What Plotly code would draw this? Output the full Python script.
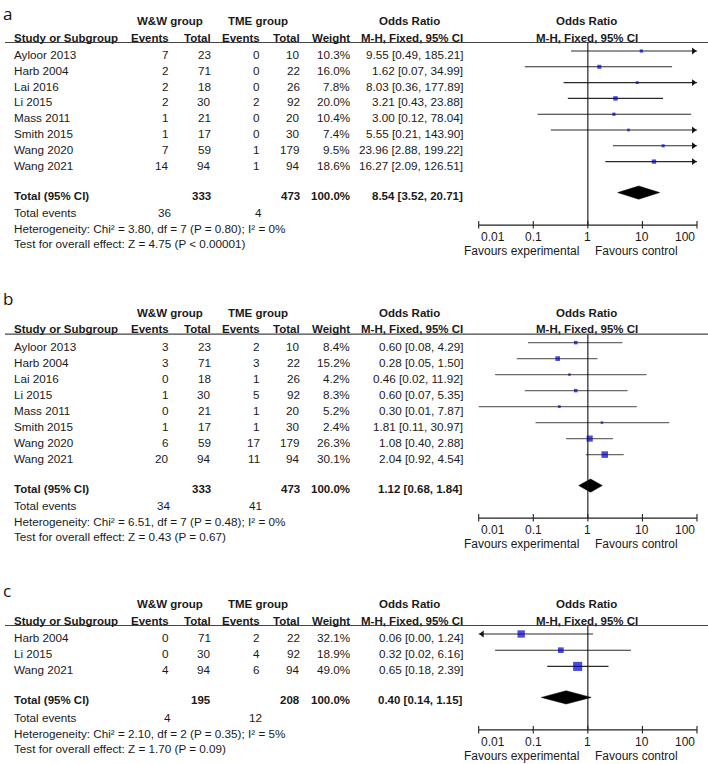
import numpy as np
import plotly.graph_objects as go

# ---------------- data ----------------
panel_labels = ["a", "b", "c"]

studies_a = ["Ayloor 2013", "Harb 2004", "Lai 2016", "Li 2015", "Mass 2011", "Smith 2015", "Wang 2020", "Wang 2021"]
ev_ww_a = [7, 2, 2, 2, 1, 1, 7, 14]
tot_ww_a = [23, 71, 18, 30, 21, 17, 59, 94]
ev_tme_a = [0, 0, 0, 2, 0, 0, 1, 1]
tot_tme_a = [10, 22, 26, 92, 20, 30, 179, 94]
weight_a = [10.3, 16.0, 7.8, 20.0, 10.4, 7.4, 9.5, 18.6]
or_a = [9.55, 1.62, 8.03, 3.21, 3.00, 5.55, 23.96, 16.27]
lo_a = [0.49, 0.07, 0.36, 0.43, 0.12, 0.21, 2.88, 2.09]
hi_a = [185.21, 34.99, 177.89, 23.88, 78.04, 143.90, 199.22, 126.51]
total_a = dict(n_ww=333, n_tme=473, or_=8.54, lo=3.52, hi=20.71, ev_ww=36, ev_tme=4,
               het="Heterogeneity: Chi² = 3.80, df = 7 (P = 0.80); I² = 0%",
               test="Test for overall effect: Z = 4.75 (P < 0.00001)")

studies_b = ["Ayloor 2013", "Harb 2004", "Lai 2016", "Li 2015", "Mass 2011", "Smith 2015", "Wang 2020", "Wang 2021"]
ev_ww_b = [3, 3, 0, 1, 0, 1, 6, 20]
tot_ww_b = [23, 71, 18, 30, 21, 17, 59, 94]
ev_tme_b = [2, 3, 1, 5, 1, 1, 17, 11]
tot_tme_b = [10, 22, 26, 92, 20, 30, 179, 94]
weight_b = [8.4, 15.2, 4.2, 8.3, 5.2, 2.4, 26.3, 30.1]
or_b = [0.60, 0.28, 0.46, 0.60, 0.30, 1.81, 1.08, 2.04]
lo_b = [0.08, 0.05, 0.02, 0.07, 0.01, 0.11, 0.40, 0.92]
hi_b = [4.29, 1.50, 11.92, 5.35, 7.87, 30.97, 2.88, 4.54]
total_b = dict(n_ww=333, n_tme=473, or_=1.12, lo=0.68, hi=1.84, ev_ww=34, ev_tme=41,
               het="Heterogeneity: Chi² = 6.51, df = 7 (P = 0.48); I² = 0%",
               test="Test for overall effect: Z = 0.43 (P = 0.67)")

studies_c = ["Harb 2004", "Li 2015", "Wang 2021"]
ev_ww_c = [0, 0, 4]
tot_ww_c = [71, 30, 94]
ev_tme_c = [2, 4, 6]
tot_tme_c = [22, 92, 94]
weight_c = [32.1, 18.9, 49.0]
or_c = [0.06, 0.32, 0.65]
lo_c = [0.00, 0.02, 0.18]
hi_c = [1.24, 6.16, 2.39]
total_c = dict(n_ww=195, n_tme=208, or_=0.40, lo=0.14, hi=1.15, ev_ww=4, ev_tme=12,
               het="Heterogeneity: Chi² = 2.10, df = 2 (P = 0.35); I² = 5%",
               test="Test for overall effect: Z = 1.70 (P = 0.09)")

tick_vals = [0.01, 0.1, 1, 10, 100]
tick_text = ["0.01", "0.1", "1", "10", "100"]
favours = ["Favours experimental", "Favours control"]

# ---------------- layout constants ----------------
W, H = 708, 764
X0PX, X1PX = 478.7, 697.0
PPD = (X1PX - X0PX) / 4.0
EXT = 0.06
XMIN, XMAX = tick_vals[0], tick_vals[-1]
FONT = "Liberation Sans"
TXT = "#1a1a1a"
NS = 11.7   # normal size
BS = 11.5   # bold size

panels = [
    dict(label=panel_labels[0], base=37.7, step=15.8, mscale=1.0, lcol="#2a2a2a",
         studies=studies_a, ev_ww=ev_ww_a, tot_ww=tot_ww_a, ev_tme=ev_tme_a, tot_tme=tot_tme_a,
         w=weight_a, or_=or_a, lo=lo_a, hi=hi_a, tot=total_a),
    dict(label=panel_labels[1], base=329.3, step=16.0, mscale=1.2, lcol="#6a6a6a",
         studies=studies_b, ev_ww=ev_ww_b, tot_ww=tot_ww_b, ev_tme=ev_tme_b, tot_tme=tot_tme_b,
         w=weight_b, or_=or_b, lo=lo_b, hi=hi_b, tot=total_b),
    dict(label=panel_labels[2], base=620.7, step=16.2, mscale=1.3, lcol="#2a2a2a",
         studies=studies_c, ev_ww=ev_ww_c, tot_ww=tot_ww_c, ev_tme=ev_tme_c, tot_tme=tot_tme_c,
         w=weight_c, or_=or_c, lo=lo_c, hi=hi_c, tot=total_c),
]

fig = go.Figure()
ann = []
shapes = []


def txt(x, y, s, anchor="left", bold=False, size=None, family=FONT, color=TXT, yanchor="middle"):
    if size is None:
        size = BS if bold else NS
    ann.append(dict(xref="paper", yref="y", x=x / W, y=y,
                    text=f"<b>{s}</b>" if bold else s, showarrow=False,
                    xanchor=anchor, yanchor=yanchor,
                    font=dict(family=family, size=size, color=color)))


ARW = 6  # arrow marker size
arr_off = (ARW / 2) * 2 / np.sqrt(3)  # tip offset px

for k_p, p in enumerate(panels):
    Y0 = p["base"]
    # panel letter
    if k_p == 0:
        txt(0.5, max(0.0, Y0 - 38.0), p["label"], family="Open Sans", size=17, color="#111",
            yanchor="top")
    else:
        txt(0.5, Y0 - 30.5, p["label"], family="Open Sans", size=17, color="#111")
    # header row 1
    r1 = Y0 - 16.3
    txt(169.5, r1, "W&amp;W group", "center", True)
    txt(258, r1, "TME group", "center", True)
    txt(409, r1, "Odds Ratio", "center", True)
    txt(586.7, r1, "Odds Ratio", "center", True)
    # header row 2
    txt(12, Y0, "Study or Subgroup", "left", True)
    txt(171, Y0, "Events", "right", True)
    txt(213.3, Y0, "Total", "right", True)
    txt(261.7, Y0, "Events", "right", True)
    txt(301.7, Y0, "Total", "right", True)
    txt(351.7, Y0, "Weight", "right", True)
    txt(465, Y0, "M-H, Fixed, 95% CI", "right", True)
    txt(586.7, Y0, "M-H, Fixed, 95% CI", "center", True)
    line_y = Y0 + 4.8
    shapes.append(dict(type="line", xref="paper", yref="y", x0=5 / W, x1=1, y0=line_y, y1=line_y,
                       line=dict(color="#444", width=1.2)))

    n = len(p["studies"])
    rows = [Y0 + 16.8 + p["step"] * i for i in range(n)]
    for i in range(n):
        y = rows[i]
        txt(12, y, p["studies"][i])
        txt(171, y, str(p["ev_ww"][i]), "right")
        txt(213.3, y, str(p["tot_ww"][i]), "right")
        txt(261.7, y, str(p["ev_tme"][i]), "right")
        txt(301.7, y, str(p["tot_tme"][i]), "right")
        txt(351.7, y, f"{p['w'][i]:.1f}%", "right")
        txt(465, y, f"{p['or_'][i]:.2f} [{p['lo'][i]:.2f}, {p['hi'][i]:.2f}]", "right")

    t = p["tot"]
    ty = rows[-1] + 30.5
    txt(12, ty, "Total (95% CI)", "left", True)
    txt(213.3, ty, str(t["n_ww"]), "right", True)
    txt(301.7, ty, str(t["n_tme"]), "right", True)
    txt(351.7, ty, "100.0%", "right", True)
    txt(465, ty, f"{t['or_']:.2f} [{t['lo']:.2f}, {t['hi']:.2f}]", "right", True)
    txt(12, ty + 16.7, "Total events")
    txt(173, ty + 16.7, str(t["ev_ww"]), "right")
    txt(264, ty + 16.7, str(t["ev_tme"]), "right")
    txt(12, ty + 32.7, t["het"])
    txt(12, ty + 48.0, t["test"])

    axis_y = ty + 29.5
    my = [r - 3.5 for r in rows]

    # CI lines
    lx, ly = [], []
    rax, ray, lax, lay = [], [], [], []
    for i in range(n):
        a = max(p["lo"][i], XMIN)
        b = min(p["hi"][i], XMAX)
        lx += [a, b, None]
        ly += [my[i], my[i], None]
        if p["hi"][i] > XMAX:
            rax.append(XMAX * 10 ** (-arr_off / PPD)); ray.append(my[i])
        if p["lo"][i] < XMIN:
            lax.append(XMIN * 10 ** (arr_off / PPD)); lay.append(my[i])
    fig.add_trace(go.Scatter(x=lx, y=ly, mode="lines", line=dict(color=p["lcol"], width=1.1),
                             hoverinfo="skip"))
    if rax:
        fig.add_trace(go.Scatter(x=rax, y=ray, mode="markers", cliponaxis=False,
                                 marker=dict(symbol="triangle-right", size=ARW, color="#111"),
                                 hoverinfo="skip"))
    if lax:
        fig.add_trace(go.Scatter(x=lax, y=lay, mode="markers", cliponaxis=False,
                                 marker=dict(symbol="triangle-left", size=ARW, color="#111"),
                                 hoverinfo="skip"))
    # squares
    sizes = [max(2.5, p["mscale"] * np.sqrt(w)) for w in p["w"]]
    fig.add_trace(go.Scatter(x=p["or_"], y=my, mode="markers", cliponaxis=False,
                             marker=dict(symbol="square", size=sizes, color="#0000cc",
                                         line=dict(width=0)),
                             hoverinfo="skip"))
    # diamond
    dy = ty - 3
    hh = 6.6
    fig.add_trace(go.Scatter(x=[t["lo"], t["or_"], t["hi"], t["or_"], t["lo"]],
                             y=[dy, dy - hh, dy, dy + hh, dy], mode="lines", fill="toself",
                             fillcolor="#000", line=dict(color="#000", width=0.5),
                             hoverinfo="skip"))
    # null line
    fig.add_trace(go.Scatter(x=[1, 1], y=[line_y, axis_y], mode="lines",
                             line=dict(color="#111", width=1.1), hoverinfo="skip"))
    # axis line + ticks
    ax_x = [XMIN, XMAX, None]
    ax_y = [axis_y, axis_y, None]
    for tv in tick_vals:
        ax_x += [tv, tv, None]
        ax_y += [axis_y - 4, axis_y + 3.5, None]
    fig.add_trace(go.Scatter(x=ax_x, y=ax_y, mode="lines", line=dict(color="#222", width=1.1),
                             hoverinfo="skip"))
    # tick labels
    for k, (tv, tt) in enumerate(zip(tick_vals, tick_text)):
        anc = "left" if k == 0 else ("right" if k == len(tick_vals) - 1 else "center")
        ann.append(dict(xref="x", yref="y", x=np.log10(tv), y=axis_y + 12, text=tt,
                        showarrow=False, xanchor=anc, yanchor="middle",
                        font=dict(family=FONT, size=12, color=TXT)))
    ann.append(dict(xref="x", yref="y", x=0, y=axis_y + 26, text=favours[0], showarrow=False,
                    xanchor="right", yanchor="middle", xshift=-7,
                    font=dict(family=FONT, size=12, color=TXT)))
    ann.append(dict(xref="x", yref="y", x=0, y=axis_y + 26, text=favours[1], showarrow=False,
                    xanchor="left", yanchor="middle", xshift=5.5,
                    font=dict(family=FONT, size=12, color=TXT)))

x_dom = [(X0PX - EXT * PPD) / W, (X1PX + EXT * PPD) / W]
fig.update_layout(
    width=W, height=H, margin=dict(l=0, r=0, t=0, b=0),
    paper_bgcolor="white", plot_bgcolor="rgba(0,0,0,0)", showlegend=False,
    xaxis=dict(type="log", range=[-2 - EXT, 2 + EXT], domain=x_dom, visible=False, fixedrange=True),
    yaxis=dict(range=[H, 0], domain=[0, 1], visible=False, fixedrange=True),
    annotations=ann, shapes=shapes,
)
fig.write_html("out.html", config={"displayModeBar": False},
               post_script="document.body.style.margin='0';document.body.style.overflow='hidden';")
